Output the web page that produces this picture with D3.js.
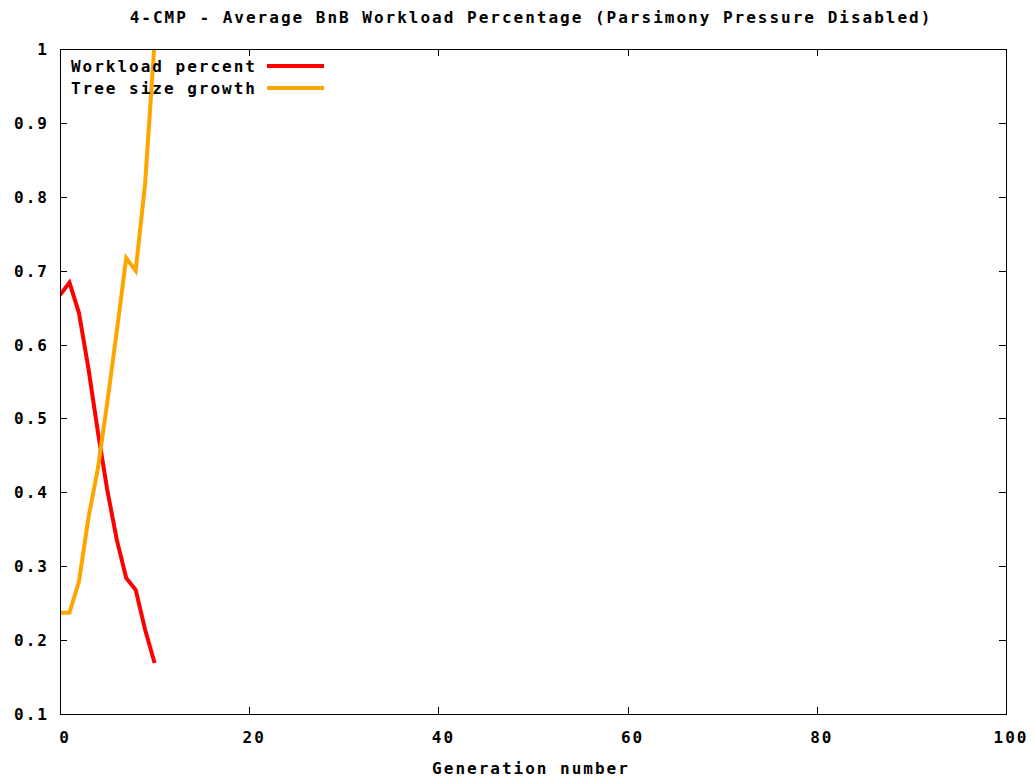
<!DOCTYPE html>
<html>
<head>
<meta charset="utf-8">
<script src="https://cdn.jsdelivr.net/npm/d3@7"></script>
<style>
  html, body { margin: 0; padding: 0; background: #fff; }
  text { font-family: "DejaVu Sans Mono", "Liberation Mono", monospace; font-weight: bold; font-size: 16px; letter-spacing: 2px; fill: #000; }
</style>
</head>
<body>
<svg id="chart" width="1034" height="782"></svg>
<script>
// Generations sampled in the run
const generations = [0, 1, 2, 3, 4, 5, 6, 7, 8, 9, 10];
// Average share of work done by BnB, per generation
const workloadPercent = [0.667, 0.684, 0.643, 0.568, 0.482, 0.403, 0.336, 0.284, 0.268, 0.214, 0.169];
// Normalised tree size growth, per generation
const treeSizeGrowth = [0.237, 0.237, 0.279, 0.365, 0.432, 0.522, 0.618, 0.717, 0.700, 0.818, 1.01];

const seriesNames = ["Workload percent", "Tree size growth"];
const seriesColors = ["#ff0000", "#ffa500"];
const xTicks = [0, 20, 40, 60, 80, 100];
const yTicks = [0.1, 0.2, 0.3, 0.4, 0.5, 0.6, 0.7, 0.8, 0.9, 1];

const titleText = "4-CMP - Average BnB Workload Percentage (Parsimony Pressure Disabled)";
const xLabelText = "Generation number";

const margin = { left: 60, right: 1006, top: 49, bottom: 714 };
const svg = d3.select("#chart");

const x = d3.scaleLinear().domain([0, 100]).range([margin.left, margin.right]);
const y = d3.scaleLinear().domain([0.1, 1]).range([margin.bottom, margin.top]);

// letter-spacing adds trailing space after the last glyph; compensate for end-anchored text
const LS = 2;

// Title
svg.append("text")
  .attr("x", 531).attr("y", 23)
  .attr("text-anchor", "middle")
  .text(titleText);

// Ticks (inside, mirrored on all four sides)
const tickLen = 7;
const tg = svg.append("g").attr("stroke", "#000").attr("stroke-width", 1).attr("shape-rendering", "crispEdges");
xTicks.forEach(t => {
  const px = Math.round(x(t)) + 0.5;
  tg.append("line").attr("x1", px).attr("x2", px).attr("y1", margin.bottom).attr("y2", margin.bottom - tickLen);
  tg.append("line").attr("x1", px).attr("x2", px).attr("y1", margin.top).attr("y2", margin.top + tickLen);
});
yTicks.forEach(t => {
  const py = Math.round(y(t)) + 0.5;
  tg.append("line").attr("x1", margin.left).attr("x2", margin.left + tickLen).attr("y1", py).attr("y2", py);
  tg.append("line").attr("x1", margin.right).attr("x2", margin.right - tickLen).attr("y1", py).attr("y2", py);
});

// Tick labels
svg.append("g").selectAll("text").data(yTicks).join("text")
  .attr("x", 47 + LS).attr("y", d => y(d) + 6)
  .attr("text-anchor", "end")
  .text(d => d3.format("")(d));

svg.append("g").selectAll("text").data(xTicks).join("text")
  .attr("x", d => x(d) + 5).attr("y", 743)
  .attr("text-anchor", "middle")
  .text(d => d);

// Axis label
svg.append("text")
  .attr("x", 531).attr("y", 774)
  .attr("text-anchor", "middle")
  .text(xLabelText);

// Data lines, clipped to the plot frame
svg.append("clipPath").attr("id", "plotclip")
  .append("rect")
  .attr("x", margin.left).attr("y", margin.top)
  .attr("width", margin.right - margin.left).attr("height", margin.bottom - margin.top);

const line = d3.line().x((d, i) => x(generations[i])).y(d => y(d));
const series = [workloadPercent, treeSizeGrowth];
const lg = svg.append("g").attr("clip-path", "url(#plotclip)");
series.forEach((s, i) => {
  lg.append("path")
    .datum(s)
    .attr("d", line)
    .attr("fill", "none")
    .attr("stroke", seriesColors[i])
    .attr("stroke-width", 4)
    .attr("stroke-linejoin", "miter");
});

// Border
svg.append("rect")
  .attr("x", margin.left + 0.5).attr("y", margin.top + 0.5)
  .attr("width", margin.right - margin.left).attr("height", margin.bottom - margin.top)
  .attr("fill", "none").attr("stroke", "#000").attr("stroke-width", 1)
  .attr("shape-rendering", "crispEdges");

// Legend
const legendY = [66, 88];
seriesNames.forEach((name, i) => {
  svg.append("text")
    .attr("x", 255 + LS).attr("y", legendY[i] + 6)
    .attr("text-anchor", "end")
    .text(name);
  svg.append("line")
    .attr("x1", 267).attr("x2", 324)
    .attr("y1", legendY[i]).attr("y2", legendY[i])
    .attr("stroke", seriesColors[i]).attr("stroke-width", 4);
});
</script>
</body>
</html>
